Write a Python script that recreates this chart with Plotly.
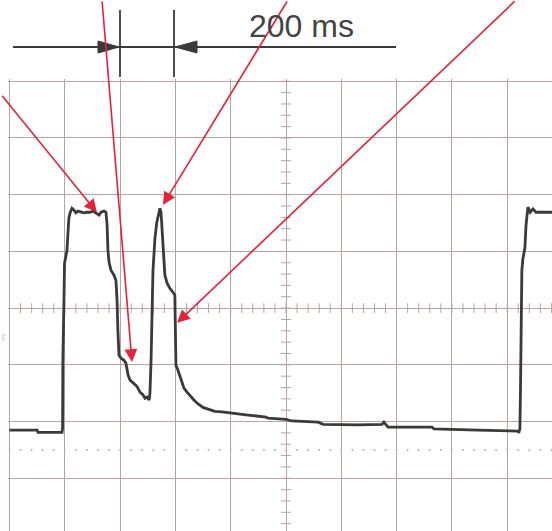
import numpy as np
import plotly.graph_objects as go

# oscilloscope trace, 200 ms/div, vertical in divisions
t_ms = [0, 100, 103, 190, 192, 193, 197, 199, 204, 208, 211, 215, 219, 226, 233, 240,
        248, 259, 269, 280, 291, 302, 313, 324, 331, 342, 349, 353, 356, 360, 367, 378,
        385, 389, 392, 396, 403, 414, 421, 429, 436, 447, 461, 472, 483, 490, 497, 505,
        508, 512, 515, 519, 526, 533, 541, 544, 548, 551, 555, 559, 562, 570, 580, 591,
        598, 600, 602, 609, 617, 624, 631, 642, 653, 667, 682, 700, 718, 743, 769, 797,
        834, 870, 928, 935, 1000, 1022, 1116, 1134, 1260, 1347, 1354, 1369, 1528, 1535,
        1694, 1839, 1842, 1846, 1848, 1850, 1853, 1857, 1864, 1868, 1872, 1875, 1883,
        1893, 1904, 1918, 1965]
v_div = [-2.15, -2.15, -2.19, -2.19, -2.12, -0.92, 0.14, 0.79, 0.92, 1.02, 1.29, 1.59,
         1.68, 1.76, 1.73, 1.68, 1.71, 1.69, 1.68, 1.69, 1.69, 1.71, 1.68, 1.64, 1.69,
         1.71, 1.69, 1.46, 1.02, 0.81, 0.67, 0.58, 0.49, 0.14, -0.39, -0.83, -0.88, -0.92,
         -0.97, -1.18, -1.27, -1.32, -1.38, -1.48, -1.53, -1.59, -1.57, -1.62, -1.50,
         -0.92, 0.14, 0.67, 1.23, 1.52, 1.69, 1.76, 1.69, 1.46, 1.11, 0.81, 0.58, 0.44,
         0.35, 0.28, 0.23, -0.39, -1.01, -1.09, -1.20, -1.31, -1.41, -1.48, -1.55, -1.62,
         -1.69, -1.75, -1.78, -1.82, -1.83, -1.85, -1.87, -1.89, -1.92, -1.94, -1.96,
         -1.99, -2.01, -2.05, -2.06, -2.05, -2.01, -2.10, -2.10, -2.13, -2.15, -2.17,
         -2.20, -2.12, -1.45, 0.14, 0.67, 0.88, 1.06, 1.46, 1.69, 1.78, 1.69, 1.75, 1.69,
         1.69, 1.69]

# red callout arrows: tip (ms, div) and tail offset (px), tails on the page edge
callout_t = [316, 443, 555, 606]
callout_v = [1.69, -0.95, 1.82, -0.26]
callout_ax = [-96, -30, 125, 339]
callout_ay = [-118, -362, -205, -323]

dim_label = "200 ms"

W, H = 552, 531
ML, MT = 8, 79
GRID = "#b8a2a2"
INK = "#3a3a3a"


def xp(px):
    return (px - ML) / (W - ML)


def yp(py):
    return (H - py) / (H - MT)


fig = go.Figure()

# graticule minor ticks on the centre lines and reference dots
minor_t = np.arange(0, 2001, 40)
minor_v = np.arange(-4, 4.01, 0.2)
fig.add_trace(go.Scatter(x=minor_t, y=[0] * len(minor_t), mode="markers",
                         marker=dict(symbol="line-ns", size=7, line=dict(width=1, color=GRID)),
                         hoverinfo="skip"))
fig.add_trace(go.Scatter(x=[1000] * len(minor_v), y=minor_v, mode="markers",
                         marker=dict(symbol="line-ew", size=7, line=dict(width=1, color=GRID)),
                         hoverinfo="skip"))
fig.add_trace(go.Scatter(x=minor_t, y=[-2.5] * len(minor_t), mode="markers",
                         marker=dict(symbol="circle", size=2, color="#bbb0b0"),
                         hoverinfo="skip"))

fig.add_trace(go.Scatter(x=t_ms, y=v_div, mode="lines",
                         line=dict(color=INK, width=2.8, shape="linear")))

for t, v, ax, ay in zip(callout_t, callout_v, callout_ax, callout_ay):
    fig.add_annotation(x=t, y=v, xref="x", yref="y", ax=ax, ay=ay, text="",
                       showarrow=True, arrowhead=2, arrowsize=1.6, arrowwidth=1.6,
                       arrowcolor="#e5223a", standoff=0)

# dimension marker above the screen
shapes = [
    dict(type="line", x0=xp(13), x1=xp(396), y0=yp(47), y1=yp(47)),
    dict(type="line", x0=xp(120), x1=xp(120), y0=yp(10), y1=yp(77)),
    dict(type="line", x0=xp(174), x1=xp(174), y0=yp(10), y1=yp(77)),
]
for s in shapes:
    s.update(xref="paper", yref="paper", line=dict(color=INK, width=1.8))
    fig.add_shape(**s)
for tip, base in [(119, 98), (175, 197)]:
    path = f"M{xp(tip)},{yp(47)} L{xp(base)},{yp(41)} L{xp(base)},{yp(53)} Z"
    fig.add_shape(type="path", path=path, xref="paper", yref="paper",
                  fillcolor=INK, line=dict(color=INK, width=1))
# screen border top/left
fig.add_shape(type="line", xref="paper", yref="paper", x0=xp(9.5), x1=1, y0=yp(81.5), y1=yp(81.5),
              line=dict(color=GRID, width=1.2))

fig.add_annotation(text=dim_label, xref="paper", yref="paper", x=xp(301), y=yp(26),
                   xanchor="center", yanchor="middle", showarrow=False,
                   font=dict(family="Liberation Sans, Arial", size=32, color="#444444"))
fig.add_annotation(text="[:", xref="paper", yref="paper", x=xp(4), y=yp(335),
                   xanchor="center", yanchor="middle", showarrow=False,
                   font=dict(size=8, color="#aaaaaa"))

fig.update_xaxes(range=[-5.4, 1962], dtick=200, tick0=0, showgrid=True, gridcolor=GRID,
                 gridwidth=1.2, zeroline=False, showticklabels=False, ticks="", showline=False)
fig.update_yaxes(range=[-3.93, 4.04], dtick=1, tick0=0, showgrid=True, gridcolor=GRID,
                 gridwidth=1.2, zeroline=False, showticklabels=False, ticks="", showline=False)
fig.update_layout(width=W, height=H, margin=dict(l=ML, r=0, t=MT, b=0),
                  plot_bgcolor="white", paper_bgcolor="white", showlegend=False)

fig.write_html("out.html", config={"displayModeBar": False},
               post_script="document.body.style.margin='0px';")
